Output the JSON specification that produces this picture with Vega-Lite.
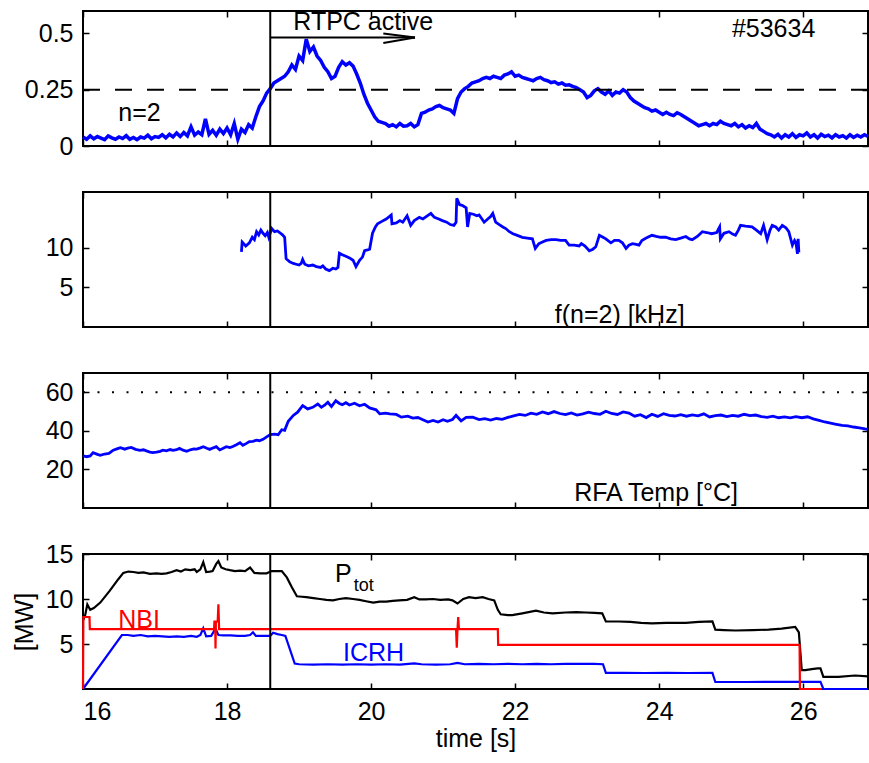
{
"$schema": "https://vega.github.io/schema/vega-lite/v6.json",
"padding": {"left": 11, "top": 9, "right": 0, "bottom": 0},
"spacing": 46,
"bounds": "flush",
"datasets": {
"amp": [
{"t":16.00,"v":0.040},{"t":16.05,"v":0.030},{"t":16.10,"v":0.045},{"t":16.15,"v":0.032},{"t":16.20,"v":0.042},{"t":16.25,"v":0.035},{"t":16.30,"v":0.028},{"t":16.35,"v":0.045},{"t":16.40,"v":0.036},{"t":16.45,"v":0.030},{"t":16.50,"v":0.040},{"t":16.55,"v":0.033},{"t":16.60,"v":0.046},{"t":16.65,"v":0.030},{"t":16.70,"v":0.038},{"t":16.75,"v":0.028},{"t":16.80,"v":0.040},{"t":16.85,"v":0.035},{"t":16.90,"v":0.048},{"t":16.95,"v":0.032},{"t":17.00,"v":0.042},{"t":17.05,"v":0.038},{"t":17.10,"v":0.050},{"t":17.15,"v":0.036},{"t":17.20,"v":0.052},{"t":17.25,"v":0.040},{"t":17.30,"v":0.058},{"t":17.35,"v":0.042},{"t":17.40,"v":0.060},{"t":17.45,"v":0.045},{"t":17.50,"v":0.085},{"t":17.55,"v":0.048},{"t":17.60,"v":0.062},{"t":17.65,"v":0.050},{"t":17.70,"v":0.120},{"t":17.75,"v":0.052},{"t":17.80,"v":0.070},{"t":17.85,"v":0.048},{"t":17.90,"v":0.075},{"t":17.95,"v":0.055},{"t":18.00,"v":0.080},{"t":18.05,"v":0.050},{"t":18.10,"v":0.100},{"t":18.15,"v":0.030},{"t":18.20,"v":0.075},{"t":18.25,"v":0.060},{"t":18.30,"v":0.095},{"t":18.35,"v":0.080},{"t":18.40,"v":0.130},{"t":18.45,"v":0.175},{"t":18.50,"v":0.200},{"t":18.55,"v":0.235},{"t":18.60,"v":0.255},{"t":18.65,"v":0.280},{"t":18.70,"v":0.290},{"t":18.75,"v":0.300},{"t":18.80,"v":0.310},{"t":18.85,"v":0.330},{"t":18.90,"v":0.360},{"t":18.95,"v":0.340},{"t":19.00,"v":0.400},{"t":19.05,"v":0.380},{"t":19.10,"v":0.475},{"t":19.15,"v":0.420},{"t":19.20,"v":0.440},{"t":19.25,"v":0.400},{"t":19.30,"v":0.380},{"t":19.35,"v":0.350},{"t":19.40,"v":0.330},{"t":19.45,"v":0.300},{"t":19.50,"v":0.310},{"t":19.55,"v":0.350},{"t":19.60,"v":0.375},{"t":19.65,"v":0.360},{"t":19.70,"v":0.370},{"t":19.75,"v":0.355},{"t":19.80,"v":0.320},{"t":19.85,"v":0.280},{"t":19.90,"v":0.230},{"t":19.95,"v":0.190},{"t":20.00,"v":0.160},{"t":20.05,"v":0.130},{"t":20.10,"v":0.110},{"t":20.15,"v":0.105},{"t":20.20,"v":0.100},{"t":20.25,"v":0.088},{"t":20.30,"v":0.095},{"t":20.35,"v":0.085},{"t":20.40,"v":0.100},{"t":20.45,"v":0.088},{"t":20.50,"v":0.090},{"t":20.55,"v":0.100},{"t":20.60,"v":0.085},{"t":20.65,"v":0.095},{"t":20.70,"v":0.145},{"t":20.75,"v":0.150},{"t":20.80,"v":0.160},{"t":20.85,"v":0.165},{"t":20.90,"v":0.175},{"t":20.95,"v":0.180},{"t":21.00,"v":0.170},{"t":21.05,"v":0.165},{"t":21.10,"v":0.160},{"t":21.15,"v":0.145},{"t":21.20,"v":0.210},{"t":21.25,"v":0.240},{"t":21.30,"v":0.255},{"t":21.35,"v":0.265},{"t":21.40,"v":0.280},{"t":21.45,"v":0.285},{"t":21.50,"v":0.290},{"t":21.55,"v":0.300},{"t":21.60,"v":0.305},{"t":21.65,"v":0.300},{"t":21.70,"v":0.310},{"t":21.75,"v":0.305},{"t":21.80,"v":0.300},{"t":21.85,"v":0.315},{"t":21.90,"v":0.320},{"t":21.95,"v":0.330},{"t":22.00,"v":0.310},{"t":22.05,"v":0.315},{"t":22.10,"v":0.305},{"t":22.15,"v":0.300},{"t":22.20,"v":0.295},{"t":22.25,"v":0.290},{"t":22.30,"v":0.300},{"t":22.35,"v":0.305},{"t":22.40,"v":0.295},{"t":22.45,"v":0.290},{"t":22.50,"v":0.282},{"t":22.55,"v":0.285},{"t":22.60,"v":0.275},{"t":22.65,"v":0.280},{"t":22.70,"v":0.270},{"t":22.75,"v":0.272},{"t":22.80,"v":0.265},{"t":22.85,"v":0.260},{"t":22.90,"v":0.250},{"t":22.95,"v":0.240},{"t":23.00,"v":0.215},{"t":23.05,"v":0.225},{"t":23.10,"v":0.245},{"t":23.15,"v":0.255},{"t":23.20,"v":0.240},{"t":23.25,"v":0.230},{"t":23.30,"v":0.245},{"t":23.35,"v":0.225},{"t":23.40,"v":0.240},{"t":23.45,"v":0.235},{"t":23.50,"v":0.250},{"t":23.55,"v":0.240},{"t":23.60,"v":0.215},{"t":23.65,"v":0.200},{"t":23.70,"v":0.190},{"t":23.75,"v":0.180},{"t":23.80,"v":0.170},{"t":23.85,"v":0.165},{"t":23.90,"v":0.155},{"t":23.95,"v":0.160},{"t":24.00,"v":0.150},{"t":24.05,"v":0.140},{"t":24.10,"v":0.150},{"t":24.15,"v":0.140},{"t":24.20,"v":0.135},{"t":24.25,"v":0.148},{"t":24.30,"v":0.140},{"t":24.35,"v":0.130},{"t":24.40,"v":0.120},{"t":24.45,"v":0.110},{"t":24.50,"v":0.100},{"t":24.55,"v":0.090},{"t":24.60,"v":0.095},{"t":24.65,"v":0.100},{"t":24.70,"v":0.090},{"t":24.75,"v":0.100},{"t":24.80,"v":0.095},{"t":24.85,"v":0.110},{"t":24.90,"v":0.100},{"t":24.95,"v":0.095},{"t":25.00,"v":0.090},{"t":25.05,"v":0.100},{"t":25.10,"v":0.085},{"t":25.15,"v":0.095},{"t":25.20,"v":0.080},{"t":25.25,"v":0.090},{"t":25.30,"v":0.082},{"t":25.35,"v":0.100},{"t":25.40,"v":0.075},{"t":25.45,"v":0.065},{"t":25.50,"v":0.055},{"t":25.55,"v":0.050},{"t":25.60,"v":0.040},{"t":25.65,"v":0.052},{"t":25.70,"v":0.035},{"t":25.75,"v":0.050},{"t":25.80,"v":0.040},{"t":25.85,"v":0.055},{"t":25.90,"v":0.038},{"t":25.95,"v":0.050},{"t":26.00,"v":0.045},{"t":26.05,"v":0.058},{"t":26.10,"v":0.040},{"t":26.15,"v":0.050},{"t":26.20,"v":0.035},{"t":26.25,"v":0.052},{"t":26.30,"v":0.042},{"t":26.35,"v":0.048},{"t":26.40,"v":0.036},{"t":26.45,"v":0.050},{"t":26.50,"v":0.040},{"t":26.55,"v":0.046},{"t":26.60,"v":0.035},{"t":26.65,"v":0.050},{"t":26.70,"v":0.038},{"t":26.75,"v":0.048},{"t":26.80,"v":0.040},{"t":26.85,"v":0.050},{"t":26.90,"v":0.042}
],
"freq": [
{"t":18.20,"v":9.45},{"t":18.21,"v":10.7},{"t":18.26,"v":10.2},{"t":18.31,"v":10.6},{"t":18.35,"v":11.3},{"t":18.38,"v":11.0},{"t":18.41,"v":12.0},{"t":18.44,"v":11.6},{"t":18.47,"v":12.2},{"t":18.50,"v":11.8},{"t":18.53,"v":11.5},{"t":18.56,"v":11.9},{"t":18.58,"v":11.3},{"t":18.62,"v":12.4},{"t":18.66,"v":12.0},{"t":18.70,"v":12.1},{"t":18.73,"v":11.9},{"t":18.77,"v":11.6},{"t":18.80,"v":11.3},{"t":18.82,"v":8.6},{"t":18.87,"v":8.2},{"t":18.92,"v":8.0},{"t":18.96,"v":7.9},{"t":19.00,"v":7.8},{"t":19.03,"v":8.0},{"t":19.05,"v":8.5},{"t":19.08,"v":7.9},{"t":19.13,"v":7.7},{"t":19.19,"v":7.8},{"t":19.24,"v":7.6},{"t":19.30,"v":7.5},{"t":19.33,"v":7.7},{"t":19.37,"v":7.3},{"t":19.42,"v":7.1},{"t":19.47,"v":7.4},{"t":19.51,"v":7.3},{"t":19.54,"v":7.5},{"t":19.56,"v":9.3},{"t":19.60,"v":9.1},{"t":19.65,"v":8.9},{"t":19.70,"v":8.7},{"t":19.75,"v":8.4},{"t":19.79,"v":7.6},{"t":19.84,"v":8.4},{"t":19.88,"v":8.8},{"t":19.91,"v":9.6},{"t":19.95,"v":9.7},{"t":19.98,"v":9.8},{"t":20.02,"v":11.8},{"t":20.06,"v":12.6},{"t":20.09,"v":13.0},{"t":20.15,"v":13.3},{"t":20.21,"v":13.6},{"t":20.28,"v":14.1},{"t":20.29,"v":13.0},{"t":20.35,"v":13.1},{"t":20.40,"v":13.4},{"t":20.44,"v":13.2},{"t":20.50,"v":14.0},{"t":20.55,"v":12.8},{"t":20.60,"v":13.4},{"t":20.67,"v":13.8},{"t":20.72,"v":13.6},{"t":20.78,"v":14.0},{"t":20.83,"v":14.3},{"t":20.88,"v":13.8},{"t":20.94,"v":13.6},{"t":20.99,"v":13.4},{"t":21.05,"v":13.2},{"t":21.10,"v":12.9},{"t":21.15,"v":12.8},{"t":21.18,"v":13.2},{"t":21.19,"v":16.2},{"t":21.23,"v":15.4},{"t":21.27,"v":15.3},{"t":21.32,"v":15.0},{"t":21.34,"v":12.6},{"t":21.37,"v":14.3},{"t":21.42,"v":14.2},{"t":21.47,"v":14.0},{"t":21.50,"v":14.1},{"t":21.54,"v":13.6},{"t":21.57,"v":13.2},{"t":21.62,"v":13.6},{"t":21.66,"v":13.9},{"t":21.69,"v":14.3},{"t":21.73,"v":13.2},{"t":21.78,"v":12.9},{"t":21.83,"v":12.6},{"t":21.87,"v":12.4},{"t":21.92,"v":12.0},{"t":21.97,"v":11.75},{"t":22.04,"v":11.5},{"t":22.10,"v":11.3},{"t":22.17,"v":11.2},{"t":22.24,"v":11.1},{"t":22.28,"v":9.9},{"t":22.33,"v":10.5},{"t":22.38,"v":10.7},{"t":22.43,"v":10.9},{"t":22.50,"v":11.0},{"t":22.57,"v":11.0},{"t":22.63,"v":10.9},{"t":22.70,"v":10.9},{"t":22.75,"v":10.3},{"t":22.82,"v":10.3},{"t":22.89,"v":10.2},{"t":22.92,"v":10.5},{"t":22.97,"v":10.2},{"t":23.03,"v":9.6},{"t":23.08,"v":9.8},{"t":23.12,"v":10.1},{"t":23.17,"v":11.55},{"t":23.22,"v":11.3},{"t":23.26,"v":11.1},{"t":23.33,"v":10.6},{"t":23.38,"v":10.9},{"t":23.44,"v":10.9},{"t":23.49,"v":10.6},{"t":23.54,"v":9.9},{"t":23.58,"v":10.3},{"t":23.63,"v":10.5},{"t":23.68,"v":10.4},{"t":23.72,"v":10.3},{"t":23.76,"v":10.9},{"t":23.82,"v":11.2},{"t":23.90,"v":11.55},{"t":23.96,"v":11.4},{"t":24.02,"v":11.3},{"t":24.09,"v":11.3},{"t":24.16,"v":11.1},{"t":24.23,"v":11.0},{"t":24.30,"v":11.2},{"t":24.37,"v":11.4},{"t":24.42,"v":11.1},{"t":24.46,"v":11.0},{"t":24.53,"v":11.4},{"t":24.60,"v":12.0},{"t":24.66,"v":11.9},{"t":24.73,"v":11.75},{"t":24.80,"v":11.9},{"t":24.84,"v":12.6},{"t":24.85,"v":11.1},{"t":24.90,"v":11.8},{"t":24.97,"v":12.0},{"t":25.02,"v":11.7},{"t":25.06,"v":11.55},{"t":25.10,"v":12.2},{"t":25.13,"v":12.8},{"t":25.20,"v":12.7},{"t":25.29,"v":12.6},{"t":25.35,"v":12.2},{"t":25.41,"v":11.75},{"t":25.45,"v":12.8},{"t":25.50,"v":11.0},{"t":25.54,"v":12.2},{"t":25.57,"v":12.8},{"t":25.62,"v":12.6},{"t":25.66,"v":12.2},{"t":25.71,"v":12.8},{"t":25.76,"v":12.5},{"t":25.80,"v":12.0},{"t":25.85,"v":10.3},{"t":25.88,"v":10.9},{"t":25.90,"v":10.6},{"t":25.92,"v":9.2},{"t":25.93,"v":11.1},{"t":25.94,"v":9.4}
],
"temp": [
{"t":16.00,"v":27.0},{"t":16.05,"v":26.6},{"t":16.10,"v":27.0},{"t":16.14,"v":28.7},{"t":16.20,"v":27.8},{"t":16.24,"v":27.3},{"t":16.30,"v":28.0},{"t":16.36,"v":28.3},{"t":16.42,"v":30.0},{"t":16.48,"v":30.8},{"t":16.52,"v":31.3},{"t":16.58,"v":30.5},{"t":16.62,"v":31.0},{"t":16.67,"v":31.4},{"t":16.73,"v":30.4},{"t":16.79,"v":29.9},{"t":16.84,"v":30.2},{"t":16.88,"v":29.6},{"t":16.93,"v":29.0},{"t":16.97,"v":28.7},{"t":17.02,"v":29.0},{"t":17.07,"v":29.4},{"t":17.11,"v":30.0},{"t":17.16,"v":29.6},{"t":17.21,"v":30.3},{"t":17.25,"v":29.9},{"t":17.30,"v":30.2},{"t":17.34,"v":30.9},{"t":17.39,"v":30.0},{"t":17.44,"v":29.4},{"t":17.49,"v":30.2},{"t":17.54,"v":30.6},{"t":17.58,"v":30.5},{"t":17.63,"v":31.2},{"t":17.67,"v":31.8},{"t":17.72,"v":31.0},{"t":17.76,"v":30.4},{"t":17.81,"v":31.2},{"t":17.85,"v":31.8},{"t":17.90,"v":30.1},{"t":17.94,"v":30.8},{"t":17.99,"v":31.8},{"t":18.04,"v":31.3},{"t":18.08,"v":31.9},{"t":18.13,"v":32.8},{"t":18.18,"v":33.8},{"t":18.22,"v":32.5},{"t":18.27,"v":33.5},{"t":18.31,"v":34.4},{"t":18.36,"v":34.6},{"t":18.41,"v":35.2},{"t":18.45,"v":34.9},{"t":18.50,"v":35.6},{"t":18.55,"v":36.9},{"t":18.60,"v":38.0},{"t":18.66,"v":38.3},{"t":18.71,"v":38.0},{"t":18.76,"v":40.6},{"t":18.80,"v":40.3},{"t":18.85,"v":45.0},{"t":18.92,"v":48.0},{"t":18.98,"v":49.7},{"t":19.05,"v":53.1},{"t":19.12,"v":51.4},{"t":19.19,"v":52.2},{"t":19.26,"v":53.9},{"t":19.31,"v":52.2},{"t":19.36,"v":53.5},{"t":19.40,"v":54.8},{"t":19.45,"v":52.6},{"t":19.51,"v":55.6},{"t":19.56,"v":54.2},{"t":19.60,"v":53.6},{"t":19.65,"v":54.6},{"t":19.70,"v":53.4},{"t":19.77,"v":54.3},{"t":19.84,"v":53.0},{"t":19.91,"v":53.8},{"t":19.98,"v":51.9},{"t":20.07,"v":50.9},{"t":20.12,"v":48.8},{"t":20.20,"v":49.2},{"t":20.26,"v":48.8},{"t":20.35,"v":48.5},{"t":20.42,"v":47.1},{"t":20.51,"v":47.6},{"t":20.58,"v":46.6},{"t":20.65,"v":46.9},{"t":20.72,"v":45.8},{"t":20.79,"v":44.6},{"t":20.86,"v":45.4},{"t":20.93,"v":44.6},{"t":21.00,"v":45.8},{"t":21.06,"v":45.0},{"t":21.13,"v":45.9},{"t":21.18,"v":48.0},{"t":21.25,"v":45.2},{"t":21.32,"v":47.0},{"t":21.41,"v":47.1},{"t":21.50,"v":45.8},{"t":21.58,"v":46.3},{"t":21.66,"v":45.6},{"t":21.74,"v":46.4},{"t":21.82,"v":46.0},{"t":21.90,"v":47.0},{"t":21.98,"v":47.8},{"t":22.06,"v":48.5},{"t":22.14,"v":48.0},{"t":22.22,"v":49.2},{"t":22.30,"v":48.6},{"t":22.38,"v":49.8},{"t":22.46,"v":48.9},{"t":22.54,"v":50.0},{"t":22.62,"v":49.0},{"t":22.70,"v":48.4},{"t":22.78,"v":49.3},{"t":22.86,"v":48.2},{"t":22.94,"v":48.8},{"t":23.02,"v":49.7},{"t":23.10,"v":49.0},{"t":23.18,"v":48.6},{"t":23.26,"v":50.2},{"t":23.34,"v":49.0},{"t":23.42,"v":48.5},{"t":23.50,"v":49.8},{"t":23.58,"v":49.2},{"t":23.66,"v":47.6},{"t":23.74,"v":48.4},{"t":23.82,"v":46.9},{"t":23.90,"v":48.6},{"t":23.98,"v":47.5},{"t":24.06,"v":48.9},{"t":24.14,"v":48.0},{"t":24.22,"v":47.7},{"t":24.30,"v":48.4},{"t":24.38,"v":47.6},{"t":24.46,"v":48.3},{"t":24.54,"v":47.8},{"t":24.62,"v":48.8},{"t":24.70,"v":47.2},{"t":24.78,"v":47.9},{"t":24.86,"v":48.2},{"t":24.94,"v":47.4},{"t":25.02,"v":48.0},{"t":25.10,"v":47.6},{"t":25.18,"v":48.6},{"t":25.26,"v":47.9},{"t":25.34,"v":48.2},{"t":25.42,"v":47.4},{"t":25.50,"v":47.0},{"t":25.58,"v":47.6},{"t":25.66,"v":46.8},{"t":25.74,"v":47.2},{"t":25.82,"v":46.7},{"t":25.90,"v":47.4},{"t":25.98,"v":46.8},{"t":26.06,"v":47.3},{"t":26.14,"v":46.2},{"t":26.22,"v":45.4},{"t":26.30,"v":44.6},{"t":26.38,"v":44.0},{"t":26.46,"v":43.4},{"t":26.54,"v":42.8},{"t":26.62,"v":42.6},{"t":26.70,"v":42.0},{"t":26.78,"v":41.6},{"t":26.86,"v":41.0},{"t":26.90,"v":40.8}
],
"ptot": [
{"t":16.00,"v":7.6},{"t":16.03,"v":8.2},{"t":16.06,"v":9.4},{"t":16.10,"v":8.8},{"t":16.15,"v":9.0},{"t":16.24,"v":9.6},{"t":16.37,"v":10.9},{"t":16.49,"v":12.2},{"t":16.56,"v":12.9},{"t":16.63,"v":13.05},{"t":16.70,"v":13.0},{"t":16.77,"v":12.9},{"t":16.84,"v":12.95},{"t":16.93,"v":12.8},{"t":17.02,"v":12.85},{"t":17.09,"v":12.8},{"t":17.16,"v":12.85},{"t":17.23,"v":13.0},{"t":17.30,"v":13.2},{"t":17.36,"v":13.05},{"t":17.42,"v":13.3},{"t":17.49,"v":13.2},{"t":17.55,"v":13.3},{"t":17.58,"v":13.0},{"t":17.63,"v":13.3},{"t":17.67,"v":14.1},{"t":17.71,"v":13.0},{"t":17.76,"v":13.05},{"t":17.80,"v":13.1},{"t":17.85,"v":13.9},{"t":17.88,"v":14.2},{"t":17.92,"v":13.5},{"t":17.98,"v":13.3},{"t":18.04,"v":13.2},{"t":18.11,"v":13.1},{"t":18.18,"v":13.15},{"t":18.25,"v":13.1},{"t":18.32,"v":13.5},{"t":18.38,"v":12.9},{"t":18.46,"v":12.85},{"t":18.55,"v":12.85},{"t":18.62,"v":13.1},{"t":18.70,"v":13.1},{"t":18.76,"v":13.1},{"t":18.83,"v":12.4},{"t":18.90,"v":11.3},{"t":18.97,"v":10.3},{"t":19.04,"v":10.25},{"t":19.10,"v":10.2},{"t":19.20,"v":10.1},{"t":19.29,"v":10.0},{"t":19.38,"v":9.9},{"t":19.47,"v":9.85},{"t":19.56,"v":10.0},{"t":19.65,"v":10.1},{"t":19.75,"v":10.0},{"t":19.84,"v":9.9},{"t":19.93,"v":9.75},{"t":20.03,"v":9.6},{"t":20.12,"v":9.7},{"t":20.21,"v":9.7},{"t":20.30,"v":9.8},{"t":20.39,"v":9.85},{"t":20.50,"v":9.9},{"t":20.60,"v":10.2},{"t":20.67,"v":9.95},{"t":20.76,"v":9.95},{"t":20.86,"v":10.0},{"t":20.96,"v":9.9},{"t":21.07,"v":9.95},{"t":21.13,"v":9.85},{"t":21.20,"v":9.5},{"t":21.28,"v":10.0},{"t":21.36,"v":10.2},{"t":21.45,"v":10.1},{"t":21.55,"v":10.2},{"t":21.63,"v":10.0},{"t":21.71,"v":9.85},{"t":21.76,"v":8.8},{"t":21.80,"v":8.3},{"t":21.90,"v":8.2},{"t":21.96,"v":8.2},{"t":22.10,"v":8.4},{"t":22.29,"v":8.7},{"t":22.40,"v":8.5},{"t":22.52,"v":8.4},{"t":22.70,"v":8.5},{"t":22.85,"v":8.55},{"t":22.98,"v":8.5},{"t":23.10,"v":8.45},{"t":23.21,"v":8.4},{"t":23.26,"v":7.5},{"t":23.44,"v":7.5},{"t":23.60,"v":7.45},{"t":23.75,"v":7.35},{"t":23.90,"v":7.3},{"t":24.10,"v":7.35},{"t":24.37,"v":7.35},{"t":24.55,"v":7.45},{"t":24.74,"v":7.5},{"t":24.78,"v":6.6},{"t":24.90,"v":6.55},{"t":25.06,"v":6.5},{"t":25.30,"v":6.55},{"t":25.52,"v":6.6},{"t":25.70,"v":6.7},{"t":25.89,"v":6.9},{"t":25.94,"v":6.3},{"t":25.98,"v":2.1},{"t":26.03,"v":2.1},{"t":26.12,"v":2.2},{"t":26.20,"v":2.3},{"t":26.24,"v":2.3},{"t":26.28,"v":1.35},{"t":26.49,"v":1.35},{"t":26.72,"v":1.5},{"t":26.90,"v":1.4}
],
"nbi": [
{"t":16.00,"v":0},{"t":16.005,"v":8.0},{"t":16.09,"v":8.0},{"t":16.095,"v":6.65},{"t":17.82,"v":6.65},{"t":17.825,"v":7.5},{"t":17.835,"v":7.5},{"t":17.84,"v":4.5},{"t":17.845,"v":7.5},{"t":17.87,"v":7.5},{"t":17.88,"v":9.4},{"t":17.89,"v":6.65},{"t":21.18,"v":6.65},{"t":21.19,"v":4.6},{"t":21.20,"v":6.65},{"t":21.21,"v":8.0},{"t":21.22,"v":6.65},{"t":21.76,"v":6.65},{"t":21.765,"v":4.9},{"t":25.95,"v":4.9},{"t":25.955,"v":0},{"t":26.26,"v":0}
],
"icrh": [
{"t":16.00,"v":0},{"t":16.54,"v":6.0},{"t":16.62,"v":6.0},{"t":16.70,"v":5.9},{"t":16.80,"v":6.0},{"t":16.90,"v":5.85},{"t":17.00,"v":5.9},{"t":17.10,"v":5.85},{"t":17.20,"v":5.8},{"t":17.30,"v":5.85},{"t":17.40,"v":5.8},{"t":17.50,"v":5.9},{"t":17.58,"v":5.8},{"t":17.63,"v":6.0},{"t":17.67,"v":6.75},{"t":17.71,"v":5.85},{"t":17.78,"v":5.9},{"t":17.84,"v":6.7},{"t":17.88,"v":6.0},{"t":17.95,"v":5.95},{"t":18.05,"v":5.95},{"t":18.15,"v":5.9},{"t":18.25,"v":5.9},{"t":18.32,"v":6.0},{"t":18.36,"v":6.3},{"t":18.40,"v":5.9},{"t":18.50,"v":5.9},{"t":18.60,"v":5.9},{"t":18.64,"v":6.25},{"t":18.70,"v":6.1},{"t":18.76,"v":6.0},{"t":18.81,"v":5.9},{"t":18.94,"v":2.83},{"t":19.00,"v":2.75},{"t":19.20,"v":2.7},{"t":19.40,"v":2.75},{"t":19.60,"v":2.7},{"t":19.80,"v":2.75},{"t":20.00,"v":2.7},{"t":20.20,"v":2.75},{"t":20.40,"v":2.7},{"t":20.60,"v":2.85},{"t":20.70,"v":2.75},{"t":20.90,"v":2.7},{"t":21.10,"v":2.75},{"t":21.20,"v":2.9},{"t":21.30,"v":2.75},{"t":21.50,"v":2.8},{"t":21.70,"v":2.75},{"t":21.90,"v":2.8},{"t":22.10,"v":2.75},{"t":22.30,"v":2.8},{"t":22.50,"v":2.75},{"t":22.70,"v":2.8},{"t":22.90,"v":2.8},{"t":23.10,"v":2.8},{"t":23.22,"v":2.75},{"t":23.26,"v":1.8},{"t":23.50,"v":1.8},{"t":23.80,"v":1.78},{"t":24.10,"v":1.8},{"t":24.40,"v":1.78},{"t":24.74,"v":1.8},{"t":24.78,"v":0.78},{"t":25.20,"v":0.78},{"t":25.60,"v":0.8},{"t":26.00,"v":0.8},{"t":26.24,"v":0.8},{"t":26.28,"v":0},{"t":26.90,"v":0}
],
"arrow": [
{"t":18.6,"v":0.482,"part":"shaft"},{"t":20.61,"v":0.482,"part":"shaft"},
{"t":20.17,"v":0.50,"part":"upper"},{"t":20.61,"v":0.482,"part":"upper"},
{"t":20.17,"v":0.458,"part":"lower"},{"t":20.61,"v":0.482,"part":"lower"}
]
},
"vconcat": [
{
"width": 785, "height": 135,
"layer": [
{"data": {"name": "amp"}, "mark": {"type": "line", "color": "#0000FF", "strokeWidth": 3.5},
 "encoding": {
  "x": {"field": "t", "type": "quantitative", "scale": {"domain": [16, 26.9], "nice": false, "zero": false}, "axis": {"orient": "bottom", "values": [16,18,20,22,24,26], "labels": false, "title": null}},
  "y": {"field": "v", "type": "quantitative", "scale": {"domain": [0, 0.6], "nice": false}, "axis": {"orient": "left", "values": [0, 0.25, 0.5], "labelExpr": "'' + datum.value", "title": null}}}},
{"data": {"values": [{"v": 0.25}]}, "mark": {"type": "rule", "color": "black", "strokeWidth": 2, "strokeDash": [17, 15]},
 "encoding": {"y": {"field": "v", "type": "quantitative", "scale": {"domain": [0, 0.6], "nice": false}, "axis": {"orient": "right", "values": [0, 0.25, 0.5], "labels": false, "title": null}}}},
{"data": {"values": [{"t": 18.6}]}, "mark": {"type": "rule", "color": "black", "strokeWidth": 2},
 "encoding": {"x": {"field": "t", "type": "quantitative", "scale": {"domain": [16, 26.9], "nice": false, "zero": false}, "axis": {"orient": "top", "values": [16,18,20,22,24,26], "labels": false, "title": null}}}},
{"data": {"name": "arrow"}, "mark": {"type": "line", "color": "black", "strokeWidth": 2},
 "encoding": {
  "x": {"field": "t", "type": "quantitative", "scale": {"domain": [16, 26.9], "nice": false, "zero": false}, "axis": null},
  "y": {"field": "v", "type": "quantitative", "scale": {"domain": [0, 0.6], "nice": false}, "axis": null},
  "detail": {"field": "part"}}},
{"data": {"values": [{"t": 18.92, "v": 0.549, "label": "RTPC active"}, {"t": 25.01, "v": 0.519, "label": "#53634"}, {"t": 16.49, "v": 0.148, "label": "n=2"}]},
 "mark": {"type": "text", "align": "left", "baseline": "middle", "fontSize": 25, "font": "Liberation Sans", "color": "black"},
 "encoding": {
  "x": {"field": "t", "type": "quantitative", "scale": {"domain": [16, 26.9], "nice": false, "zero": false}, "axis": null},
  "y": {"field": "v", "type": "quantitative", "scale": {"domain": [0, 0.6], "nice": false}, "axis": null},
  "text": {"field": "label"}}}
],
"resolve": {"axis": {"x": "independent", "y": "independent"}}
},
{
"width": 785, "height": 135,
"layer": [
{"data": {"name": "freq"}, "mark": {"type": "line", "color": "#0000FF", "strokeWidth": 2.8},
 "encoding": {
  "x": {"field": "t", "type": "quantitative", "scale": {"domain": [16, 26.9], "nice": false, "zero": false}, "axis": {"orient": "bottom", "values": [16,18,20,22,24,26], "labels": false, "title": null}},
  "y": {"field": "v", "type": "quantitative", "scale": {"domain": [0, 17], "nice": false}, "axis": {"orient": "left", "values": [5, 10], "title": null}}}},
{"data": {"values": [{"t": 18.6}]}, "mark": {"type": "rule", "color": "black", "strokeWidth": 2},
 "encoding": {"x": {"field": "t", "type": "quantitative", "scale": {"domain": [16, 26.9], "nice": false, "zero": false}, "axis": {"orient": "top", "values": [16,18,20,22,24,26], "labels": false, "title": null}}}},
{"data": {"values": [{"t": 22.55, "v": 1.47, "label": "f(n=2) [kHz]"}]},
 "mark": {"type": "text", "align": "left", "baseline": "middle", "fontSize": 25, "font": "Liberation Sans", "color": "black"},
 "encoding": {
  "x": {"field": "t", "type": "quantitative", "scale": {"domain": [16, 26.9], "nice": false, "zero": false}, "axis": null},
  "y": {"field": "v", "type": "quantitative", "scale": {"domain": [0, 17], "nice": false}, "axis": {"orient": "right", "values": [5, 10], "labels": false, "title": null}},
  "text": {"field": "label"}}}
],
"resolve": {"axis": {"x": "independent", "y": "independent"}}
},
{
"width": 785, "height": 135,
"layer": [
{"data": {"name": "temp"}, "mark": {"type": "line", "color": "#0000FF", "strokeWidth": 2.8},
 "encoding": {
  "x": {"field": "t", "type": "quantitative", "scale": {"domain": [16, 26.9], "nice": false, "zero": false}, "axis": {"orient": "bottom", "values": [16,18,20,22,24,26], "labels": false, "title": null}},
  "y": {"field": "v", "type": "quantitative", "scale": {"domain": [0, 70], "nice": false}, "axis": {"orient": "left", "values": [20, 40, 60], "title": null}}}},
{"data": {"values": [{"v": 60}]}, "mark": {"type": "rule", "color": "black", "strokeWidth": 2, "strokeDash": [2, 12.5]},
 "encoding": {"y": {"field": "v", "type": "quantitative", "scale": {"domain": [0, 70], "nice": false}, "axis": {"orient": "right", "values": [20, 40, 60], "labels": false, "title": null}}}},
{"data": {"values": [{"t": 18.6}]}, "mark": {"type": "rule", "color": "black", "strokeWidth": 2},
 "encoding": {"x": {"field": "t", "type": "quantitative", "scale": {"domain": [16, 26.9], "nice": false, "zero": false}, "axis": {"orient": "top", "values": [16,18,20,22,24,26], "labels": false, "title": null}}}},
{"data": {"values": [{"t": 22.82, "v": 7.65, "label": "RFA Temp [°C]"}]},
 "mark": {"type": "text", "align": "left", "baseline": "middle", "fontSize": 25, "font": "Liberation Sans", "color": "black"},
 "encoding": {
  "x": {"field": "t", "type": "quantitative", "scale": {"domain": [16, 26.9], "nice": false, "zero": false}, "axis": null},
  "y": {"field": "v", "type": "quantitative", "scale": {"domain": [0, 70], "nice": false}, "axis": null},
  "text": {"field": "label"}}}
],
"resolve": {"axis": {"x": "independent", "y": "independent"}}
},
{
"width": 785, "height": 135,
"layer": [
{"data": {"name": "ptot"}, "mark": {"type": "line", "color": "black", "strokeWidth": 2.2},
 "encoding": {
  "x": {"field": "t", "type": "quantitative", "scale": {"domain": [16, 26.9], "nice": false, "zero": false}, "axis": {"orient": "bottom", "values": [16,18,20,22,24,26], "title": "time [s]", "titlePadding": 2}},
  "y": {"field": "v", "type": "quantitative", "scale": {"domain": [0, 15], "nice": false}, "axis": {"orient": "left", "values": [5, 10, 15], "title": "[MW]"}}}},
{"data": {"name": "icrh"}, "mark": {"type": "line", "color": "#0000FF", "strokeWidth": 2.2},
 "encoding": {
  "x": {"field": "t", "type": "quantitative", "scale": {"domain": [16, 26.9], "nice": false, "zero": false}, "axis": null},
  "y": {"field": "v", "type": "quantitative", "scale": {"domain": [0, 15], "nice": false}, "axis": {"orient": "right", "values": [5, 10, 15], "labels": false, "title": null}}}},
{"data": {"name": "nbi"}, "mark": {"type": "line", "color": "#FF0000", "strokeWidth": 2.2},
 "encoding": {
  "x": {"field": "t", "type": "quantitative", "scale": {"domain": [16, 26.9], "nice": false, "zero": false}, "axis": null},
  "y": {"field": "v", "type": "quantitative", "scale": {"domain": [0, 15], "nice": false}, "axis": null}}},
{"data": {"values": [{"t": 18.6}]}, "mark": {"type": "rule", "color": "black", "strokeWidth": 2},
 "encoding": {"x": {"field": "t", "type": "quantitative", "scale": {"domain": [16, 26.9], "nice": false, "zero": false}, "axis": {"orient": "top", "values": [16,18,20,22,24,26], "labels": false, "title": null}}}},
{"data": {"values": [{"t": 19.5, "v": 12.75, "label": "P", "c": "k", "s": "big"}, {"t": 19.76, "v": 11.4, "label": "tot", "c": "k", "s": "small"}, {"t": 16.49, "v": 7.7, "label": "NBI", "c": "r", "s": "big"}, {"t": 19.61, "v": 4.0, "label": "ICRH", "c": "b", "s": "big"}]},
 "mark": {"type": "text", "align": "left", "baseline": "middle", "font": "Liberation Sans"},
 "encoding": {
  "x": {"field": "t", "type": "quantitative", "scale": {"domain": [16, 26.9], "nice": false, "zero": false}, "axis": null},
  "y": {"field": "v", "type": "quantitative", "scale": {"domain": [0, 15], "nice": false}, "axis": null},
  "text": {"field": "label"},
  "color": {"field": "c", "type": "nominal", "scale": {"domain": ["k", "r", "b"], "range": ["black", "#FF0000", "#0000FF"]}, "legend": null},
  "size": {"field": "s", "type": "nominal", "scale": {"domain": ["big", "small"], "range": [25, 18]}, "legend": null}}}
],
"resolve": {"axis": {"x": "independent", "y": "independent"}}
}
],
"config": {
 "font": "Liberation Sans",
 "view": {"stroke": "black", "strokeWidth": 2},
 "concat": {"spacing": 46},
 "axis": {"domain": false, "grid": false, "ticks": true, "tickSize": -6, "tickColor": "black", "tickWidth": 1.5,
  "labelFont": "Liberation Sans", "labelFontSize": 25, "labelColor": "black", "labelPadding": 16,
  "titleFont": "Liberation Sans", "titleFontSize": 25, "titleFontWeight": "normal", "titleColor": "black", "titlePadding": 8}
}
}
